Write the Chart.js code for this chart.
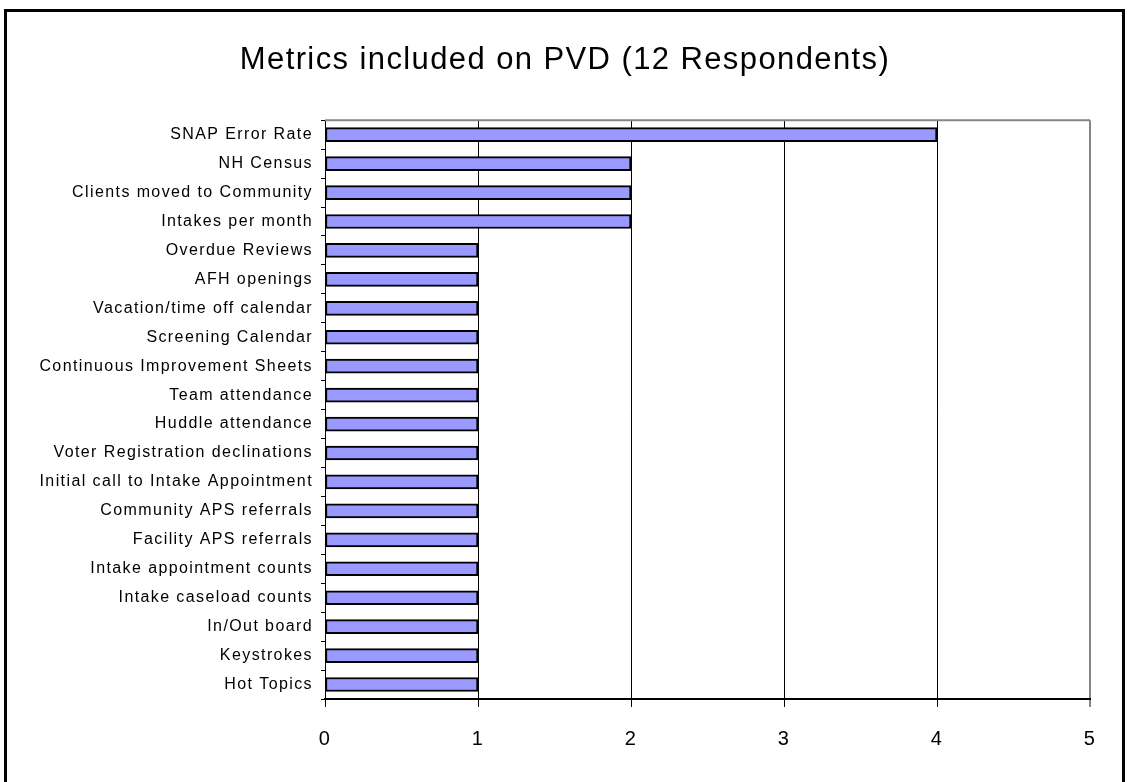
<!DOCTYPE html>
<html>
<head>
<meta charset="utf-8">
<script src="https://cdn.jsdelivr.net/npm/chart.js@4.4.1/dist/chart.umd.min.js"></script>
<style>
	html, body { margin: 0; padding: 0; background: #fff; }
	#wrap { position: relative; width: 1130px; height: 782px; overflow: hidden; }
	#frame { position: absolute; left: 4px; top: 9px; width: 1115px; height: 790px; border: 3px solid #000; pointer-events: none; }
</style>
</head>
<body>
<div id="wrap">
	<canvas id="chartView" width="1130" height="782"></canvas>
	<div id="frame"></div>
</div>
<script>
var metrics = [
	'SNAP Error Rate',
	'NH Census',
	'Clients moved to Community',
	'Intakes per month',
	'Overdue Reviews',
	'AFH openings',
	'Vacation/time off calendar',
	'Screening Calendar',
	'Continuous Improvement Sheets',
	'Team attendance',
	'Huddle attendance',
	'Voter Registration declinations',
	'Initial call to Intake Appointment',
	'Community APS referrals',
	'Facility APS referrals',
	'Intake appointment counts',
	'Intake caseload counts',
	'In/Out board',
	'Keystrokes',
	'Hot Topics'
];
var respondents = [4, 2, 2, 2, 1, 1, 1, 1, 1, 1, 1, 1, 1, 1, 1, 1, 1, 1, 1, 1];
var xTicks = [0, 1, 2, 3, 4, 5];

var chart;
var fontName = '"Liberation Sans", Arial, sans-serif';

// the source text is a bit spread out
var spacing = {
	id: 'spacing',
	beforeUpdate: function (c) {
		c.ctx.letterSpacing = '1.4px';
	},
	beforeDraw: function (c) {
		c.ctx.letterSpacing = '1.4px';
	}
};

// gray border on top of the plot area
var plotBorder = {
	id: 'plotBorder',
	afterDatasetsDraw: function (c) {
		var a = c.chartArea;
		var ctx = c.ctx;
		ctx.save();
		ctx.strokeStyle = '#868686';
		ctx.lineWidth = 2;
		ctx.beginPath();
		ctx.moveTo(a.left, a.top);
		ctx.lineTo(a.right, a.top);
		ctx.stroke();
		ctx.restore();
	}
};

function InitChart() {
	var ctx = document.getElementById('chartView').getContext('2d');

	chart = new Chart(ctx, {
		type: 'bar',
		data: {
			labels: metrics,
			datasets: [
				{
					label: 'Respondents',
					data: respondents,
					backgroundColor: '#9999ff',
					borderColor: '#000',
					borderWidth: 2,
					borderSkipped: false,
					barThickness: 14
				}
			]
		},
		options: {
			indexAxis: 'y',
			responsive: false,
			animation: false,
			layout: {
				padding: 0
			},
			scales: {
				x: {
					min: 0,
					max: 5,
					afterBuildTicks: function (s) {
						s.ticks = xTicks.map(v => ({ value: v }));
					},
					afterFit: function (s) {
						s.height = 83;
					},
					border: { color: '#000', width: 2 },
					grid: {
						color: function (c) {
							return c.tick && c.tick.value === 5 ? '#868686' : '#000';
						},
						lineWidth: function (c) {
							return c.tick && c.tick.value === 5 ? 2 : 1;
						},
						tickLength: 8,
						drawTicks: true
					},
					ticks: {
						color: '#000',
						font: { family: fontName, size: 20 },
						padding: 20
					}
				},
				y: {
					afterFit: function (s) {
						s.width = 325;
					},
					border: { color: '#000', width: 1 },
					grid: {
						drawOnChartArea: false,
						drawTicks: true,
						tickLength: 4,
						color: '#000'
					},
					ticks: {
						color: '#000',
						font: { family: fontName, size: 16 },
						padding: 8
					}
				},
				// empty space right of the plot, keeps the title centred on the page
				yRight: {
					type: 'category',
					position: 'right',
					labels: metrics,
					afterFit: function (s) {
						s.width = 40;
					},
					border: { display: false },
					grid: { display: false },
					ticks: { display: false }
				}
			},
			plugins: {
				legend: { display: false },
				tooltip: { enabled: false },
				title: {
					display: true,
					text: 'Metrics included on PVD (12 Respondents)',
					color: '#000',
					font: { family: fontName, size: 31, weight: 'normal' },
					padding: { top: 42, bottom: 41 }
				}
			}
		},
		plugins: [spacing, plotBorder]
	});
}

InitChart();
</script>
</body>
</html>
